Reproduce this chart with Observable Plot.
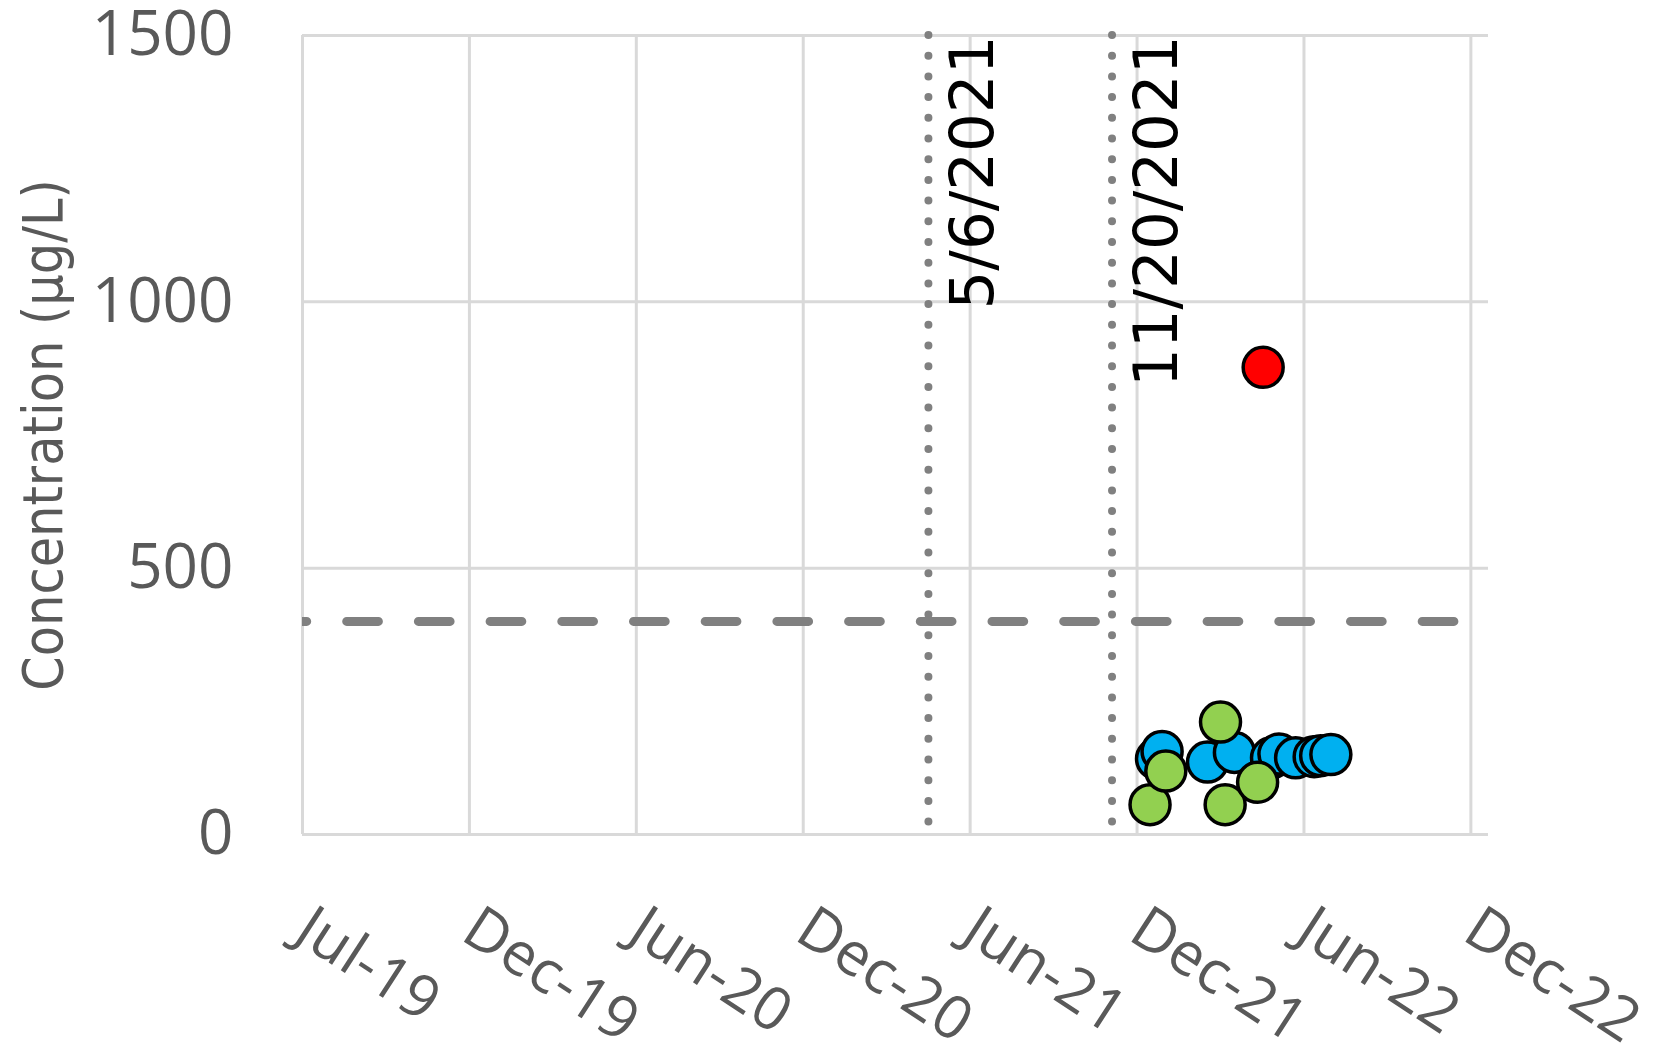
<!DOCTYPE html>
<html>
<head>
<meta charset="utf-8">
<script src="https://cdn.jsdelivr.net/npm/d3@7"></script>
<script src="https://cdn.jsdelivr.net/npm/@observablehq/plot@0.6"></script>
<style>
  html, body { margin: 0; padding: 0; background: #ffffff; }
  #chart svg { display: block; }
</style>
</head>
<body>
<div id="chart"></div>
<script>
// ---- data ----
const tickDates = ["2019-07-01","2019-12-28","2020-06-25","2020-12-22","2021-06-20","2021-12-17","2022-06-15","2022-12-12"];
const tickLabels = ["Jul-19","Dec-19","Jun-20","Dec-20","Jun-21","Dec-21","Jun-22","Dec-22"];
const xDomain = ["2019-07-01","2022-12-31"];
const yTicks = [0, 500, 1000, 1500];
const yTitle = "Concentration (μg/L)";

const blueDates  = ["2022-01-07","2022-01-13","2022-03-03","2022-04-01","2022-05-11","2022-05-19","2022-06-06","2022-06-26","2022-07-03","2022-07-14"];
const blueValues = [142, 156, 136, 154, 144, 151, 144, 146, 148, 150];

const greenDates  = ["2021-12-31","2022-01-17","2022-03-17","2022-03-22","2022-04-26"];
const greenValues = [56, 119, 211, 56, 98];

const redDates  = ["2022-05-02"];
const redValues = [877];

const eventDates  = ["2021-05-06","2021-11-20"];
const eventLabels = ["5/6/2021","11/20/2021"];

const thresholdValue = 400;

// ---- build ----
const parse = d3.utcParse("%Y-%m-%d");
const ticks = tickDates.map(parse);
const labelByTime = new Map(ticks.map((t, i) => [+t, tickLabels[i]]));
const series = (dates, values) => dates.map((d, i) => ({date: parse(d), value: values[i]}));
const blue = series(blueDates, blueValues);
const green = series(greenDates, greenValues);
const red = series(redDates, redValues);
const events = eventDates.map((d, i) => ({date: parse(d), label: eventLabels[i]}));

const gridColor = "#d9d9d9";
const textGray = "#595959";

const chart = Plot.plot({
  width: 1669,
  height: 1045,
  marginLeft: 302,
  marginRight: 181,
  marginTop: 35,
  marginBottom: 211,
  style: {fontFamily: "'Open Sans', sans-serif", background: "#ffffff"},
  x: {type: "utc", domain: xDomain.map(parse), axis: null},
  y: {domain: [0, 1500], axis: null},
  marks: [
    Plot.ruleX(ticks, {stroke: gridColor, strokeWidth: 3}),
    Plot.ruleY(yTicks, {stroke: gridColor, strokeWidth: 3}),
    Plot.ruleY([thresholdValue], {stroke: "#808080", strokeWidth: 9, strokeDasharray: "31.7 40", strokeDashoffset: 27, strokeLinecap: "round", clip: true}),
    Plot.ruleX(events, {x: "date", stroke: "#808080", strokeWidth: 8, strokeDasharray: "0 20.7", strokeLinecap: "round"}),
    Plot.text(events, {x: "date", y: () => 1500, text: "label", rotate: -90, textAnchor: "end", lineAnchor: "middle", dx: 45, fontSize: 61, fontFamily: "'DejaVu Sans', sans-serif", fill: "#000000"}),
    Plot.text(yTicks, {x: () => parse(xDomain[0]), y: d => d, text: d => String(d), textAnchor: "end", lineAnchor: "middle", dx: -69, fontSize: 62, fill: textGray}),
    Plot.text(ticks, {x: d => d, y: () => 0, text: d => labelByTime.get(+d), rotate: 33, textAnchor: "start", lineAnchor: "middle", dx: 0, dy: 88, fontSize: 60, fill: textGray}),
    Plot.text([yTitle], {frameAnchor: "left", rotate: -90, textAnchor: "middle", lineAnchor: "middle", dx: -258, fontSize: 55, fontFamily: "'Liberation Sans Narrow', 'DejaVu Sans Condensed', sans-serif", fill: textGray}),
    Plot.dot(blue, {x: "date", y: "value", r: 20, fill: "#00b0f0", stroke: "#000000", strokeWidth: 3.5}),
    Plot.dot(green, {x: "date", y: "value", r: 20, fill: "#92d050", stroke: "#000000", strokeWidth: 3.5}),
    Plot.dot(red, {x: "date", y: "value", r: 20, fill: "#ff0000", stroke: "#000000", strokeWidth: 3.5})
  ]
});
document.getElementById("chart").appendChild(chart);
</script>
</body>
</html>
